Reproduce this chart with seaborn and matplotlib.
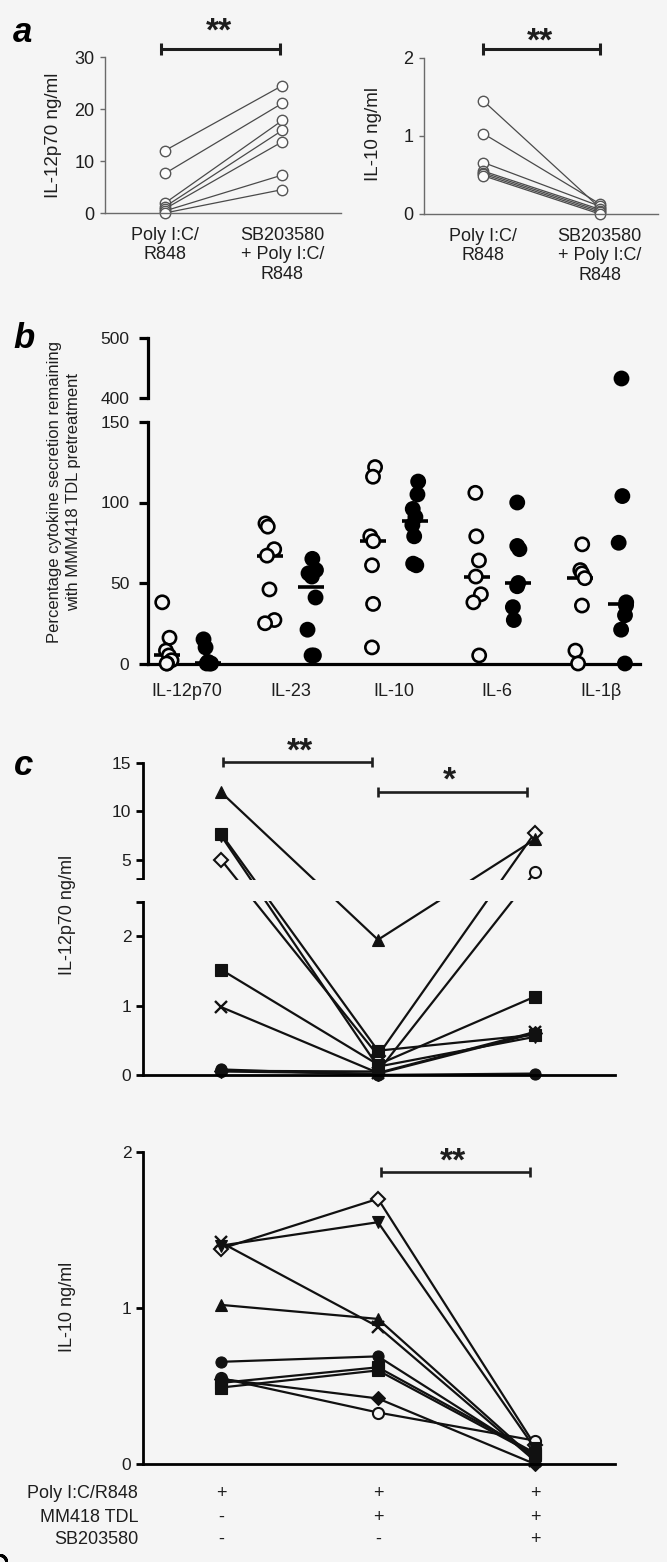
import matplotlib
matplotlib.use("Agg")
import matplotlib.pyplot as plt
import matplotlib.transforms as mtransforms
import numpy as np
import pandas as pd
import seaborn as sns

# ---------------- Panel a data ----------------
a_conditions = ["Poly I:C/\nR848", "SB203580\n+ Poly I:C/\nR848"]
a_il12p70_polyic = [12.0, 7.6, 1.9, 1.2, 0.8, 0.4, 0.0]
a_il12p70_sb = [24.5, 21.1, 17.8, 15.9, 13.7, 7.3, 4.5]
a_il10_polyic = [1.45, 1.03, 0.66, 0.55, 0.53, 0.51, 0.49]
a_il10_sb = [0.08, 0.13, 0.10, 0.06, 0.04, 0.02, 0.00]
a_il12p70_ticks = [0, 10, 20, 30]
a_il10_ticks = [0, 1, 2]

# ---------------- Panel b data ----------------
b_cytokines = ["IL-12p70", "IL-23", "IL-10", "IL-6", "IL-1β"]
b_groups = ["Group 1", "Group 2"]          # open / filled circles
b_open_il12p70 = [38, 16, 8, 5, 2, 0, 0]
b_filled_il12p70 = [15, 10, 1, 0, 0, 0]
b_open_il23 = [87, 85, 71, 67, 46, 27, 25]
b_filled_il23 = [65, 58, 56, 54, 41, 21, 5, 5]
b_open_il10 = [122, 116, 79, 76, 61, 37, 10]
b_filled_il10 = [113, 105, 96, 91, 86, 79, 62, 61]
b_open_il6 = [106, 79, 64, 54, 43, 38, 5]
b_filled_il6 = [100, 73, 71, 50, 48, 35, 27]
b_open_il1b = [74, 58, 56, 53, 36, 8, 0]
b_filled_il1b = [433, 104, 75, 38, 36, 30, 21, 0]
b_lower_ticks = [0, 50, 100, 150]
b_upper_ticks = [400, 500]

# ---------------- Panel c data ----------------
c_conditions = ["Poly I:C/R848", "Poly I:C/R848 + MM418 TDL",
                "Poly I:C/R848 + MM418 TDL + SB203580"]
c_table_rows = ["Poly I:C/R848", "MM418 TDL", "SB203580"]
c_table_polyic = ["+", "+", "+"]
c_table_tdl = ["-", "+", "+"]
c_table_sb = ["-", "-", "+"]
c_markers = ["^", "s", "v", "D", "s", "x", "o", "D", "o"]
c_filled = [True, True, True, False, True, True, True, True, False]
c_il12p70_polyic = [12.0, 7.7, 7.5, 5.0, 1.52, 0.98, 0.08, 0.05, 0.06]
c_il12p70_tdl = [1.95, 0.35, 0.12, 0.28, 0.15, 0.03, 0.00, 0.02, 0.05]
c_il12p70_tdl_sb = [7.1, 0.58, 0.55, 7.8, 1.13, 0.62, 0.02, 0.60, 3.7]
c_il10_polyic = [1.02, 0.52, 1.40, 1.38, 0.49, 1.42, 0.655, 0.545, 0.55]
c_il10_tdl = [0.93, 0.62, 1.55, 1.70, 0.60, 0.88, 0.69, 0.42, 0.33]
c_il10_tdl_sb = [0.03, 0.07, 0.10, 0.12, 0.06, 0.02, 0.05, 0.00, 0.15]
c_il12p70_ticks = [0, 1, 2, 2.5, 3, 5, 10, 15]
c_il12p70_ticklabels = ["0", "1", "2", "", "", "5", "10", "15"]
c_il12p70_break = (2.5, 3.0)

# ---------------- style ----------------
BG = "#f5f5f5"
sns.set_theme(style="ticks", rc={"axes.facecolor": BG, "figure.facecolor": BG,
                                 "savefig.facecolor": BG})
plt.rcParams["font.family"] = ["Liberation Sans", "DejaVu Sans"]
plt.rcParams["axes.unicode_minus"] = False
TXT = "#1e1e1e"
np.random.seed(7)  # reproducible horizontal jitter of the strip plot only

W, H = 667, 1562
fig = plt.figure(figsize=(W / 100, H / 100), dpi=100)


def rect(x0, y0, x1, y1):
    return [x0 / W, 1 - y1 / H, (x1 - x0) / W, (y1 - y0) / H]


def fy(y):
    return 1 - y / H


def stars(xc, yc, text, fs=24):
    em = fs * 100 / 72
    fig.text(xc / W, fy(yc + 0.39 * em), text, ha="center", va="baseline",
             fontsize=fs, fontweight="bold", color=TXT)


def sigbar(ax, x0, x1, y, lw, cap, color=TXT):
    ax.plot([x0, x1], [y, y], color=color, lw=lw, marker="|", markersize=cap,
            markeredgewidth=lw, clip_on=False, solid_capstyle="butt")


# ================= Panel a =================
def paired_frame(before, after, labels):
    n = len(before)
    return pd.DataFrame({"donor": list(range(n)) * 2,
                         "condition": [labels[0]] * n + [labels[1]] * n,
                         "value": list(before) + list(after)})


def style_a(ax, ylim, ticks):
    ax.set_ylim(*ylim)
    ax.set_xlim(-0.51, 1.5)
    ax.set_yticks(ticks)
    ax.set_xlabel("")
    ax.set_ylabel("")
    ax.patch.set_visible(False)
    for s in ["top", "right"]:
        ax.spines[s].set_visible(False)
    for s in ["left", "bottom"]:
        ax.spines[s].set_color("#6a6a6a")
        ax.spines[s].set_linewidth(1.0)
    ax.tick_params(axis="y", length=3.5, width=1, color="#6a6a6a", pad=4,
                   labelsize=13, labelcolor=TXT)
    ax.tick_params(axis="x", length=0, pad=10, labelsize=13, labelcolor=TXT)


panel_a_specs = [
    ((105, 57, 341, 213), a_il12p70_polyic, a_il12p70_sb, (0, 30), a_il12p70_ticks, (-0.03, 0.98, 31.5)),
    ((424, 58, 658, 214), a_il10_polyic, a_il10_sb, (0, 2), a_il10_ticks, (0.0, 1.0, 2.11)),
]
for rc, before, after, ylim, ticks, bar in panel_a_specs:
    ax = fig.add_axes(rect(*rc))
    sns.lineplot(data=paired_frame(before, after, a_conditions), x="condition", y="value",
                 units="donor", estimator=None, sort=False, color="#4a4a4a", linewidth=0.9,
                 marker="o", markersize=7.5, markerfacecolor="#fcfcfc",
                 markeredgecolor="#555555", markeredgewidth=1.0, clip_on=False,
                 ax=ax, legend=False)
    style_a(ax, ylim, ticks)
    sigbar(ax, bar[0], bar[1], bar[2], 2.2, 8)

stars(219, 28, "**")
stars(540, 38, "**")
fig.text(53 / W, fy(135), "IL-12p70 ng/ml", rotation=90, ha="center", va="center",
         fontsize=13.5, color=TXT)
fig.text(373 / W, fy(134), "IL-10 ng/ml", rotation=90, ha="center", va="center",
         fontsize=13.5, color=TXT)

# ================= Panel b =================
b_open = [b_open_il12p70, b_open_il23, b_open_il10, b_open_il6, b_open_il1b]
b_filled = [b_filled_il12p70, b_filled_il23, b_filled_il10, b_filled_il6, b_filled_il1b]
rows = []
for cyt, op, fi in zip(b_cytokines, b_open, b_filled):
    rows += [(cyt, b_groups[0], v) for v in op]
    rows += [(cyt, b_groups[1], v) for v in fi]
dfb = pd.DataFrame(rows, columns=["cytokine", "group", "value"])

axb_lo = fig.add_axes(rect(148, 422, 640, 663.5))
axb_hi = fig.add_axes(rect(148, 338, 640, 398))
face = {b_groups[0]: BG, b_groups[1]: "black"}
for ax, sub in [(axb_lo, dfb[dfb["value"] <= 150]), (axb_hi, dfb[dfb["value"] >= 400])]:
    sns.stripplot(data=sub, x="cytokine", y="value", hue="group", order=b_cytokines,
                  hue_order=b_groups, dodge=True, jitter=0.1, palette=face,
                  edgecolor="black", linewidth=1.9, size=9.5, ax=ax, legend=False)
    for coll in ax.collections:
        coll.set_clip_on(False)
sns.pointplot(data=dfb, x="cytokine", y="value", hue="group", order=b_cytokines,
              hue_order=b_groups, dodge=0.4, estimator="median", errorbar=None,
              markers="_", linestyle="none",
              palette={b_groups[0]: "black", b_groups[1]: "black"},
              markersize=19, markeredgewidth=2.6, ax=axb_lo, legend=False)

for ax in (axb_lo, axb_hi):
    ax.set_xlim(-0.38, 4.38)
    ax.set_xlabel("")
    ax.set_ylabel("")
    ax.patch.set_visible(False)
    for s in ["top", "right"]:
        ax.spines[s].set_visible(False)
    ax.spines["left"].set_linewidth(2.3)
    ax.spines["left"].set_color("black")
    ax.tick_params(axis="y", length=6.5, width=2.3, color="black", pad=7,
                   labelsize=12.5, labelcolor=TXT)
axb_lo.set_ylim(0, 150)
axb_lo.set_yticks(b_lower_ticks)
axb_lo.spines["bottom"].set_linewidth(2.3)
axb_lo.spines["bottom"].set_color("black")
axb_lo.tick_params(axis="x", length=0, pad=14, labelsize=13, labelcolor=TXT)
axb_hi.set_ylim(400, 500)
axb_hi.set_yticks(b_upper_ticks)
axb_hi.spines["bottom"].set_visible(False)
axb_hi.tick_params(axis="x", bottom=False, labelbottom=False)

fig.text(64 / W, fy(492), "Percentage cytokine secretion remaining\nwith MMM418 TDL pretreatment",
         rotation=90, ha="center", va="center", multialignment="center",
         fontsize=12, linespacing=1.35, color=TXT)

# ================= Panel c =================
# IL-12p70: one axes with a piecewise-linear (broken) y scale, so lines stay
# straight across the break, and the gap itself is blanked out.
b_lo, b_hi = c_il12p70_break
_knots_v = [-100.0, b_lo, b_hi, 1000.0]
_knots_p = [-100.0 * 69.3, b_lo * 69.3, b_lo * 69.3 + 22.7,
            b_lo * 69.3 + 22.7 + (1000.0 - b_hi) * 9.63]


def _fwd(v):
    return np.interp(v, _knots_v, _knots_p)


def _inv(p):
    return np.interp(p, _knots_p, _knots_v)


axc_12 = fig.add_axes(rect(142.5, 763.3, 615, 1080.5))
axc_12.set_yscale("function", functions=(_fwd, _inv))
axc_10 = fig.add_axes(rect(142.5, 1152, 615, 1471.8))

order = [i for i in range(len(c_markers)) if not c_filled[i]] + \
        [i for i in range(len(c_markers)) if c_filled[i]]
msize = {"^": 9, "v": 9, "s": 8, "D": 7.5, "o": 8, "x": 8}


def draw_donors(ax, v1, v2, v3):
    for i in order:
        m = c_markers[i]
        sns.lineplot(x=c_conditions, y=[v1[i], v2[i], v3[i]], sort=False, ax=ax,
                     color="#111111", linewidth=1.6, marker=m, markersize=msize[m],
                     markerfacecolor=("#111111" if c_filled[i] else BG),
                     markeredgecolor="#111111",
                     markeredgewidth=(1.7 if m == "x" else (1.5 if not c_filled[i] else 0.8)))


draw_donors(axc_12, c_il12p70_polyic, c_il12p70_tdl, c_il12p70_tdl_sb)
draw_donors(axc_10, c_il10_polyic, c_il10_tdl, c_il10_tdl_sb)

for ax in (axc_12, axc_10):
    ax.set_xlim(-0.5, 2.51)
    ax.set_xlabel("")
    ax.set_ylabel("")
    ax.patch.set_visible(False)
    for s in ["top", "right"]:
        ax.spines[s].set_visible(False)
    ax.spines["left"].set_linewidth(2.0)
    ax.spines["left"].set_color("black")
    ax.spines["bottom"].set_linewidth(2.0)
    ax.spines["bottom"].set_color("black")
    ax.spines["bottom"].set_position(("data", 0))
    ax.tick_params(axis="y", length=5, width=2, color="black", pad=3,
                   labelsize=12.5, labelcolor=TXT)
    ax.tick_params(axis="x", bottom=False, labelbottom=False)

axc_12.set_ylim(-0.08, 15)
axc_12.set_yticks(c_il12p70_ticks)
axc_12.set_yticklabels(c_il12p70_ticklabels)
axc_12.yaxis.set_minor_locator(matplotlib.ticker.NullLocator())
axc_12.spines["left"].set_bounds(0, 15)
axc_12.axhspan(b_lo + 0.02, b_hi - 0.02, xmin=-0.03, xmax=1.0, facecolor=BG,
               edgecolor="none", zorder=3, clip_on=False)

axc_10.set_ylim(-0.05, 2)
axc_10.set_yticks([0, 1, 2])
axc_10.spines["left"].set_bounds(0, 2)

sigbar(axc_12, 0.01, 0.96, 15.1, 1.9, 7)
sigbar(axc_12, 1.0, 1.95, 12.0, 1.9, 7)
sigbar(axc_10, 1.02, 1.97, 1.874, 1.9, 7)
stars(300, 748, "**")
stars(449, 777, "*")
stars(453, 1158, "**")

fig.text(68 / W, fy(915), "IL-12p70 ng/ml", rotation=90, ha="center", va="center",
         fontsize=13, color=TXT)
fig.text(68 / W, fy(1307), "IL-10 ng/ml", rotation=90, ha="center", va="center",
         fontsize=13, color=TXT)

blend = mtransforms.blended_transform_factory(axc_10.transData, fig.transFigure)
row_y = [1494, 1517, 1539]
for lab, syms, yy in zip(c_table_rows, [c_table_polyic, c_table_tdl, c_table_sb], row_y):
    fig.text(138 / W, fy(yy), lab, ha="right", va="center", fontsize=13, color=TXT)
    for cond, s in zip(c_conditions, syms):
        axc_10.text(cond, fy(yy), s, transform=blend, ha="center", va="center",
                    fontsize=13, color=TXT, clip_on=False)

# panel letters
for letter, x, yb in [("a", 13, 42), ("b", 13, 348), ("c", 14, 775)]:
    fig.text(x / W, fy(yb), letter, ha="left", va="baseline", fontsize=25,
             fontweight="bold", fontstyle="italic", color="black")

fig.savefig("out.png", dpi=100, facecolor=BG)
